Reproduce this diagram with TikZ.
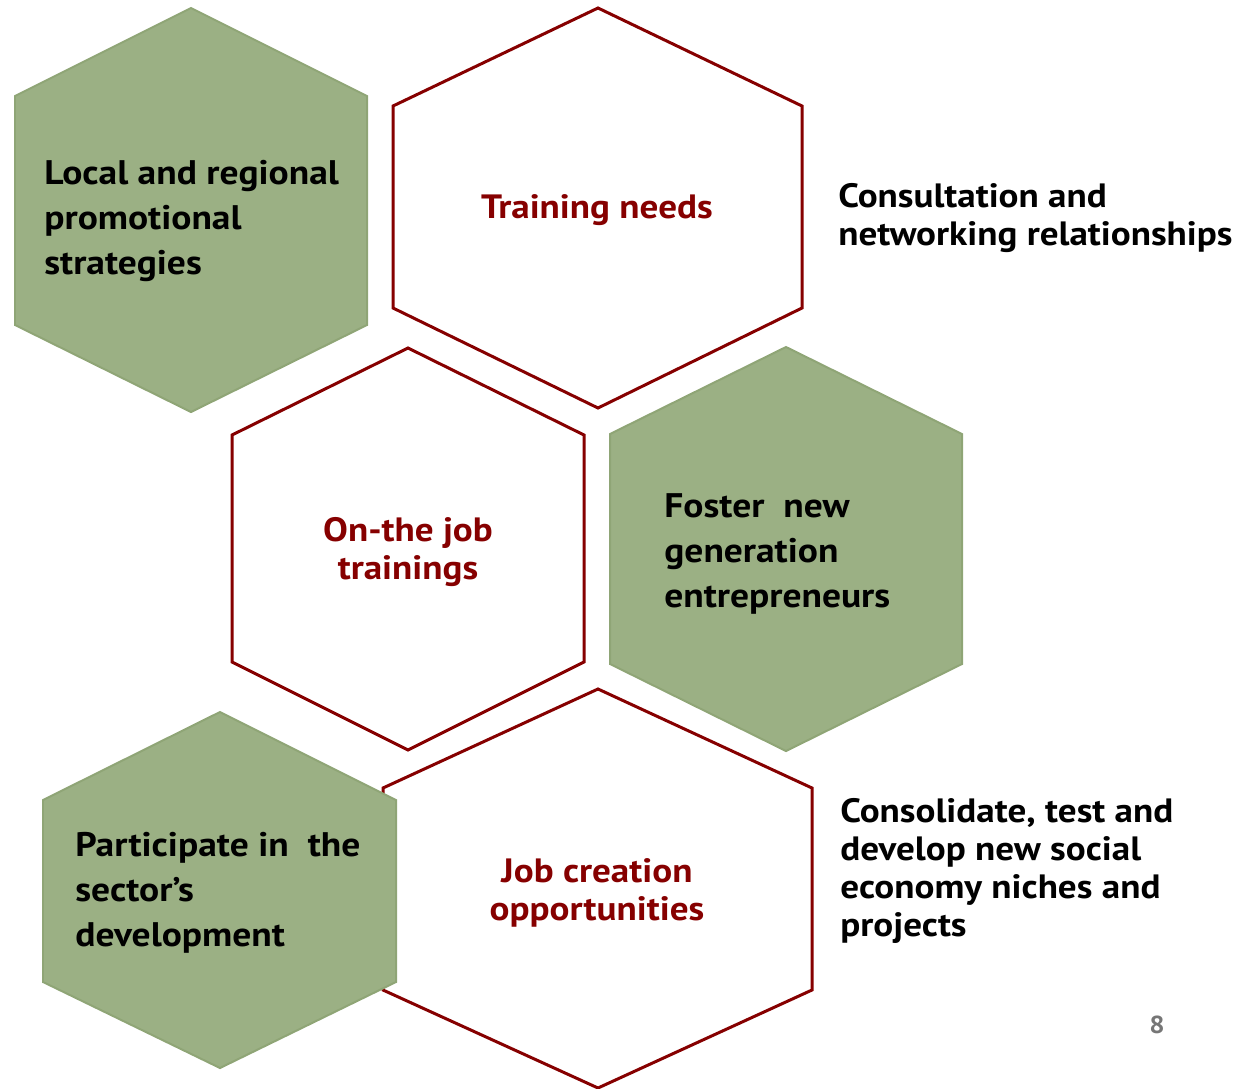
\documentclass[tikz,border=0pt]{standalone}
\usepackage{fontspec}
\setmainfont{PT Sans}[FakeStretch=1.1]
\definecolor{hexgreen}{RGB}{155,176,132}
\definecolor{hexgreenline}{RGB}{143,165,118}
\definecolor{hexred}{RGB}{134,0,0}
\definecolor{pagegray}{RGB}{118,118,118}
\tikzset{
  greenhex/.style={fill=hexgreen,draw=hexgreenline,line width=0.04cm,line join=miter},
  redhex/.style={fill=white,draw=hexred,line width=0.06cm,line join=miter},
  greentext/.style={inner sep=0pt,anchor=west,align=left,font=\bfseries\fontsize{19.4}{25.6}\selectfont},
  sidetext/.style={inner sep=0pt,anchor=west,align=left,font=\bfseries\fontsize{19.2}{21.6}\selectfont},
  redtext/.style={inner sep=0pt,align=center,text=hexred,font=\bfseries\fontsize{19.2}{21.6}\selectfont}
}
\begin{document}
\begin{tikzpicture}[x=0.02cm,y=-0.02cm]
\useasboundingbox (0,0) rectangle (1245,1089);

% Drawing hexagon Local and regional
\draw [greenhex] (191,8) -- (367,96) -- (367,325) -- (191,412) -- (15,325) -- (15,96) -- cycle;%
\node [greentext] (local) at (44,221) {Local and regional\\promotional\\strategies};%

% Drawing hexagon Training needs
\draw [redhex] (598,8) -- (802,106) -- (802,308) -- (598,408) -- (393,308) -- (393,106) -- cycle;%
\node [redtext] (training) at (597,210) {Training needs};%

% Consultation text
\node [sidetext] (consult) at (838,218) {Consultation and\\networking relationships};%

% Drawing hexagon On-the job
\draw [redhex] (408,348) -- (584,435) -- (584,662) -- (408,750) -- (232,662) -- (232,435) -- cycle;%
\node [redtext] (onjob) at (408,552) {On-the job\\trainings};%

% Drawing hexagon Foster new generation
\draw [greenhex] (786,347) -- (962,434) -- (962,664) -- (786,751) -- (610,664) -- (610,434) -- cycle;%
\node [greentext] (foster) at (664,554) {Foster\ \ new\\generation\\entrepreneurs};%

% Drawing hexagon Job creation
\draw [redhex] (598,689) -- (812,788) -- (812,990) -- (598,1088) -- (383,990) -- (383,788) -- cycle;%
\node [redtext] (jobcreation) at (597,893) {Job creation\\opportunities};%

% Drawing hexagon Participate
\draw [greenhex] (220,712) -- (396,800) -- (396,982) -- (220,1068) -- (43,982) -- (43,800) -- cycle;%
\node [greentext] (participate) at (75,893) {Participate in\ \ the\\sector’s\\development};%

% Consolidate text
\node [sidetext] (consolidate) at (840,871) {Consolidate, test and\\develop new social\\economy niches and\\projects};%

% Page number
\node [inner sep=0pt,text=pagegray,font=\bfseries\fontsize{14}{16}\selectfont] (pagenum) at (1157,1025) {8};%
\end{tikzpicture}
\end{document}
